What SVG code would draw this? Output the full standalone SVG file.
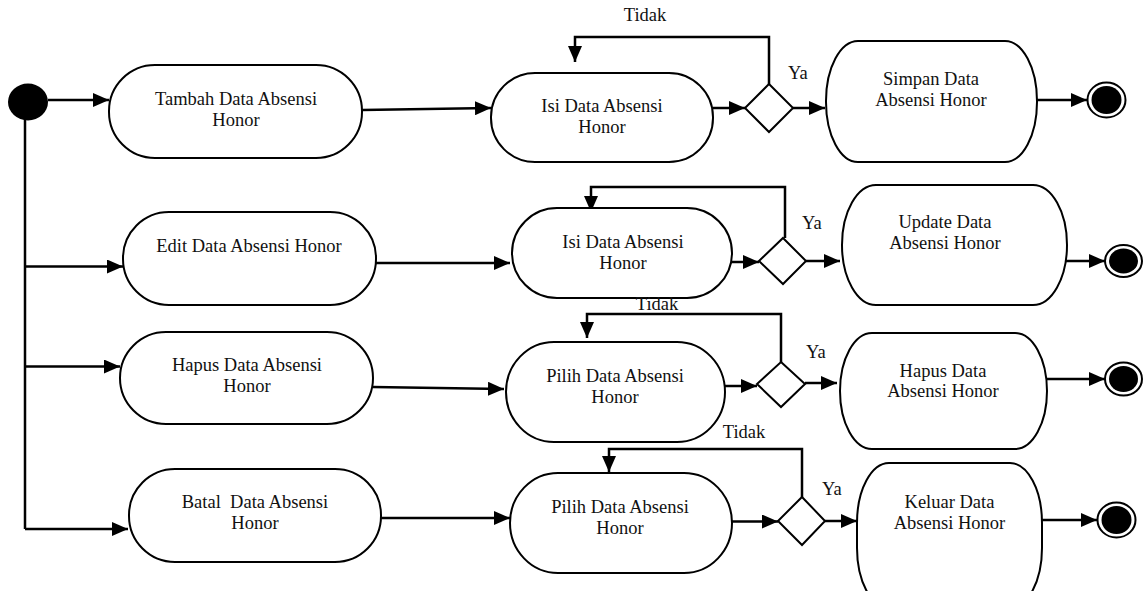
<svg xmlns="http://www.w3.org/2000/svg" width="1147" height="591" viewBox="0 0 1147 591">
<style>
.n{fill:#fff;stroke:#000;stroke-width:2}
.t{font-family:"Liberation Serif","Times New Roman",serif;font-size:18.5px;fill:#111;text-anchor:middle;white-space:pre}
.l{font-family:"Liberation Serif","Times New Roman",serif;font-size:18.5px;fill:#111}
.c{fill:none;stroke:#000;stroke-width:2.5}
.a{marker-end:url(#ah)}
</style>
<defs>
<marker id="ah" markerUnits="userSpaceOnUse" markerWidth="16" markerHeight="14" refX="16" refY="7" orient="auto">
<path d="M0,0 L16,7 L0,14 z" fill="#000"/>
</marker>
</defs>
<rect width="1147" height="591" fill="#fff"/>

<g id="connectors">
<path class="c" d="M25,118 V529"/>
<path class="c a" d="M48,100 H109"/>
<path class="c a" d="M25,266.5 H123"/>
<path class="c a" d="M25,366.5 H120"/>
<path class="c a" d="M25,529 H128"/>

<path class="c a" d="M362,110 L491,108"/>
<path class="c a" d="M713,108 H745"/>
<path class="c a" d="M769,84 V37 H575 V62"/>
<path class="c a" d="M793,108 H825"/>
<path class="c a" d="M1036,100 H1087"/>

<path class="c a" d="M376,263 H510"/>
<path class="c a" d="M730,262 H759"/>
<path class="c a" d="M785,238 V187 H591 V212"/>
<path class="c a" d="M806,261 H840"/>
<path class="c a" d="M1048,261 H1105"/>

<path class="c a" d="M373,387 L504,389"/>
<path class="c a" d="M725,386 H757"/>
<path class="c a" d="M781,362 V314 H587 V338"/>
<path class="c a" d="M805,383 H837"/>
<path class="c a" d="M1046,379 H1105"/>

<path class="c a" d="M381,518 H510"/>
<path class="c a" d="M732,521.5 H778"/>
<path class="c a" d="M802,497 V449 H609 V472"/>
<path class="c a" d="M825,521 H857"/>
<path class="c a" d="M1042,520 H1097"/>
</g>

<g id="start"><ellipse cx="28" cy="102" rx="20" ry="18.5" fill="#000"/></g>

<g id="tambah"><rect class="n" x="109" y="65" width="253" height="93" rx="46" ry="46"/>
<text class="t" x="236" y="105">Tambah Data Absensi</text><text class="t" x="236" y="126">Honor</text></g>
<g id="isi1"><rect class="n" x="491" y="73" width="222" height="89" rx="44" ry="44"/>
<text class="t" x="602" y="112">Isi Data Absensi</text><text class="t" x="602" y="133">Honor</text></g>
<g id="dec1"><path class="n" d="M769,84 L793,108 L769,132 L745,108 z"/></g>
<g id="simpan"><rect class="n" x="826" y="41" width="211" height="121" rx="32" ry="60"/>
<text class="t" x="931" y="85">Simpan Data</text><text class="t" x="931" y="106">Absensi Honor</text></g>
<g id="end1"><ellipse cx="1106.5" cy="100" rx="19" ry="17.5" fill="#fff" stroke="#000" stroke-width="2"/><ellipse cx="1106.5" cy="100" rx="15" ry="14" fill="#000"/></g>

<g id="edit"><rect class="n" x="123" y="212" width="253" height="93" rx="46" ry="46"/>
<text class="t" x="249" y="252">Edit Data Absensi Honor</text></g>
<g id="isi2"><rect class="n" x="512" y="208" width="220" height="90" rx="45" ry="45"/>
<text class="t" x="623" y="248">Isi Data Absensi</text><text class="t" x="623" y="269">Honor</text></g>
<g id="dec2"><path class="n" d="M783,238 L806,261 L783,284 L759,261 z"/></g>
<g id="update"><rect class="n" x="842" y="185" width="225" height="120" rx="34" ry="60"/>
<text class="t" x="945" y="228">Update Data</text><text class="t" x="945" y="249">Absensi Honor</text></g>
<g id="end2"><ellipse cx="1123.5" cy="261" rx="18.5" ry="16" fill="#fff" stroke="#000" stroke-width="2"/><ellipse cx="1123.5" cy="261" rx="14.5" ry="12.5" fill="#000"/></g>

<g id="hapus"><rect class="n" x="120" y="332" width="253" height="92" rx="46" ry="46"/>
<text class="t" x="247" y="371">Hapus Data Absensi</text><text class="t" x="247" y="392">Honor</text></g>
<g id="pilih1"><rect class="n" x="506" y="342" width="219" height="100" rx="48" ry="50"/>
<text class="t" x="615" y="382">Pilih Data Absensi</text><text class="t" x="615" y="403">Honor</text></g>
<g id="dec3"><path class="n" d="M781,362 L805,384 L781,407 L757,384 z"/></g>
<g id="hapus2"><rect class="n" x="840" y="333" width="207" height="116" rx="32" ry="58"/>
<text class="t" x="943" y="377">Hapus Data</text><text class="t" x="943" y="397">Absensi Honor</text></g>
<g id="end3"><ellipse cx="1123.5" cy="379" rx="18.5" ry="16.5" fill="#fff" stroke="#000" stroke-width="2"/><ellipse cx="1123.5" cy="379" rx="14.5" ry="13" fill="#000"/></g>

<g id="batal"><rect class="n" x="129" y="469" width="252" height="93" rx="46" ry="46"/>
<text class="t" x="255" y="508">Batal  Data Absensi</text><text class="t" x="255" y="529">Honor</text></g>
<g id="pilih2"><rect class="n" x="510" y="473" width="222" height="100" rx="48" ry="50"/>
<text class="t" x="620" y="513">Pilih Data Absensi</text><text class="t" x="620" y="534">Honor</text></g>
<g id="dec4"><path class="n" d="M802,497 L825,521 L802,545 L778,521 z"/></g>
<g id="keluar"><rect class="n" x="857" y="463" width="185" height="145" rx="32" ry="60"/>
<text class="t" x="949.5" y="508">Keluar Data</text><text class="t" x="949.5" y="529">Absensi Honor</text></g>
<g id="end4"><ellipse cx="1116.5" cy="520" rx="19" ry="17.5" fill="#fff" stroke="#000" stroke-width="2"/><ellipse cx="1116.5" cy="520" rx="15" ry="14" fill="#000"/></g>

<g id="labels">
<text class="l" x="645" y="21" text-anchor="middle">Tidak</text>
<text class="l" x="788" y="79">Ya</text>
<text class="l" x="802" y="229">Ya</text>
<text class="l" x="657" y="310" text-anchor="middle">Tidak</text>
<text class="l" x="806" y="358">Ya</text>
<text class="l" x="744" y="438" text-anchor="middle">Tidak</text>
<text class="l" x="822" y="495">Ya</text>
</g>
</svg>
